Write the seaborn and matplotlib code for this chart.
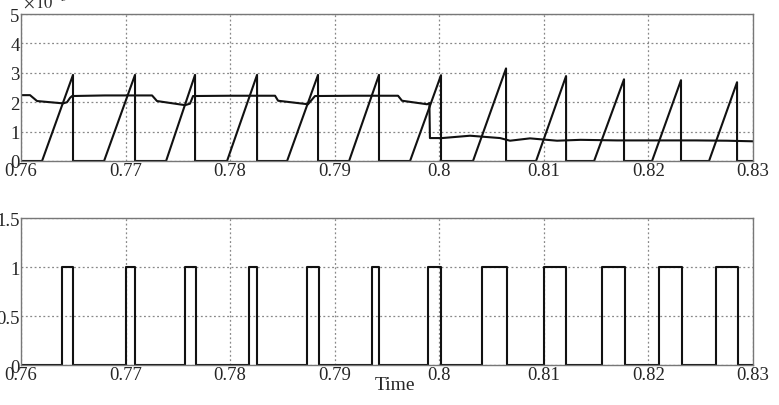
import numpy as np
import pandas as pd
import matplotlib
matplotlib.use("Agg")
import matplotlib.pyplot as plt
import seaborn as sns

# sawtooth (x 1e-3): start of ramp, end of ramp (drop), peak value
ramp_start = [0.76201, 0.76794, 0.77387, 0.77970, 0.78544, 0.79137,
              0.79720, 0.80322, 0.80925, 0.81480, 0.82034, 0.82579]
ramp_end = [0.76497, 0.77090, 0.77664, 0.78257, 0.78840, 0.79423,
            0.80016, 0.80638, 0.81212, 0.81766, 0.82311, 0.82847]
ramp_peak = [2.93, 2.93, 2.93, 2.93, 2.93, 2.93,
             2.92, 3.15, 2.89, 2.78, 2.75, 2.68]

# slowly varying curve (x 1e-3)
avg_t = [0.76000, 0.76086, 0.76153, 0.76277, 0.76402, 0.76440, 0.76469, 0.76488,
         0.76800, 0.77253, 0.77300, 0.77568, 0.77616, 0.77645,
         0.78000, 0.78429, 0.78458, 0.78744, 0.78811,
         0.79200, 0.79605, 0.79643, 0.79883, 0.79905, 0.79910,
         0.80026, 0.80294, 0.80581, 0.80676, 0.80867, 0.81126,
         0.81350, 0.81700, 0.82050, 0.82450, 0.82750, 0.83000]
avg_v = [2.24, 2.24, 2.04, 2.00, 1.96, 2.00, 2.15, 2.21,
         2.23, 2.23, 2.04, 1.90, 1.95, 2.21,
         2.22, 2.22, 2.05, 1.93, 2.21,
         2.22, 2.22, 2.05, 1.93, 1.97, 0.78,
         0.78, 0.86, 0.78, 0.69, 0.77, 0.69,
         0.72, 0.70, 0.70, 0.70, 0.69, 0.67]

# gate pulses: rise and fall times
pulse_on = [0.76392, 0.77004, 0.77568, 0.78180, 0.78735, 0.79357,
            0.79892, 0.80408, 0.81001, 0.81556, 0.82101, 0.82646]
pulse_off = [0.76497, 0.77090, 0.77673, 0.78257, 0.78850, 0.79423,
             0.80016, 0.80648, 0.81212, 0.81776, 0.82321, 0.82857]

xticks = [0.76, 0.77, 0.78, 0.79, 0.80, 0.81, 0.82, 0.83]
xlabels = ["0.76", "0.77", "0.78", "0.79", "0.8", "0.81", "0.82", "0.83"]
top_yticks = [0, 1, 2, 3, 4, 5]
bot_yticks = [0, 0.5, 1, 1.5]
bot_ylabels = ["0", "0.5", "1", "1.5"]

sns.set_style("white")
plt.rcParams['font.family'] = ['Liberation Serif', 'DejaVu Serif']
plt.rcParams['mathtext.fontset'] = 'stix'

# build the piecewise curves
st, sv = [0.76], [0.0]
for a, b, p in zip(ramp_start, ramp_end, ramp_peak):
    st += [a, b, b]
    sv += [0.0, p, 0.0]
st.append(0.83)
sv.append(0.0)
saw = pd.DataFrame({'t': st, 'v': sv})

pt, pv = [0.76], [0.0]
for a, b in zip(pulse_on, pulse_off):
    pt += [a, a, b, b]
    pv += [0, 1, 1, 0]
pt.append(0.83)
pv.append(0)
pulses = pd.DataFrame({'t': pt, 'v': pv})
avg = pd.DataFrame({'t': avg_t, 'v': avg_v})

fig = plt.figure(figsize=(7.79, 4.06), dpi=100)
ax1 = fig.add_axes([0.027, 0.601, 0.9397, 0.362])
ax2 = fig.add_axes([0.027, 0.0985, 0.9397, 0.362])

lw = 1.5
sns.lineplot(data=saw, x='t', y='v', ax=ax1, color='#111111', lw=lw, sort=False, estimator=None)
sns.lineplot(data=avg, x='t', y='v', ax=ax1, color='#111111', lw=lw, sort=False, estimator=None)
sns.lineplot(data=pulses, x='t', y='v', ax=ax2, color='#111111', lw=lw, sort=False, estimator=None)

def style(ax, yticks, ylabels, ymax):
    ax.set_xlim(0.76, 0.83)
    ax.set_ylim(0, ymax)
    ax.set_xticks(xticks)
    ax.set_xticklabels(xlabels)
    ax.set_yticks(yticks)
    ax.set_yticklabels(ylabels)
    ax.set_xlabel('')
    ax.set_ylabel('')
    ax.grid(True, color='#888888', linestyle=(0, (1.5, 2)), linewidth=0.9)
    ax.set_axisbelow(True)
    for s in ax.spines.values():
        s.set_color('#777777')
        s.set_linewidth(1.0)
    ax.tick_params(direction='in', length=3, color='#777777', labelsize=13.5, pad=1)

style(ax1, top_yticks, [str(v) for v in top_yticks], 5)
style(ax2, bot_yticks, bot_ylabels, 1.5)

fig.text(0.03, 0.995, r'$\times\,10^{-3}$', fontsize=12, va='center', ha='left', color='#333333')
fig.text(0.507, 0.05, 'Time', fontsize=14, ha='center', va='center')

fig.savefig('out.png', dpi=100)
